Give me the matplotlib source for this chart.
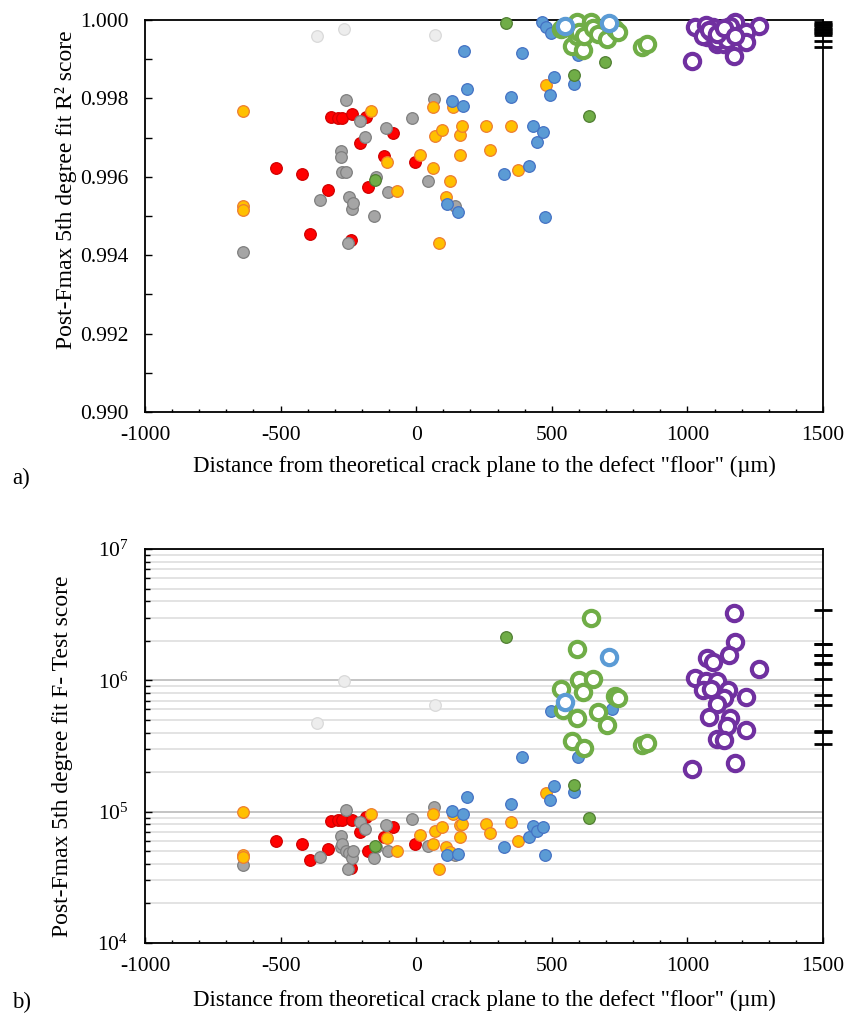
import numpy as np
import matplotlib
matplotlib.use("Agg")
import matplotlib.pyplot as plt
from matplotlib.ticker import MultipleLocator, FormatStrFormatter, LogLocator, NullFormatter

plt.rcParams['font.family'] = ['Liberation Serif', 'DejaVu Serif']
plt.rcParams['mathtext.fontset'] = 'stix'
plt.rcParams['axes.unicode_minus'] = False

nan = np.nan

# ---- data (x = distance in um, r2 = R2 score, f = F-test score) ----
red_x = [-518, -421, -390, -324, -315, -288, -274, -238, -186, -208, -239, -117, -85, -178, -5]
red_r2 = [0.99623, 0.99607, 0.99455, 0.99567, 0.99753, 0.99750, 0.99750, 0.99760, 0.99753,
          0.99686, 0.99439, 0.99652, 0.99712, 0.99574, 0.99637]
red_f = [5.94e4, 5.64e4, 4.26e4, 5.22e4, 8.53e4, 8.6e4, 8.6e4, 8.6e4, 9.15e4,
         7.0e4, 3.74e4, 6.44e4, 7.67e4, 5.0e4, 5.64e4]

gray_x = [-640, -355, -278, -278, -274, -259, -259, -253, -248, -238, -234, -207, -188,
          -157, -149, -111, -103, -15, 45, 66, 142]
gray_r2 = [0.99409, 0.99540, 0.99666, 0.99651, 0.99613, 0.99613, 0.99796, 0.99430, 0.99549,
           0.99518, 0.99533, 0.99742, 0.99701, 0.99501, 0.99600, 0.99725, 0.99560, 0.99750,
           0.99589, 0.99798, 0.99526]
gray_f = [3.92e4, 4.54e4, 6.56e4, 5.41e4, 5.67e4, 5.0e4, 1.03e5, 3.66e4, 4.81e4, 4.4e4,
          5.0e4, 8.37e4, 7.33e4, 4.43e4, 5.41e4, 7.95e4, 5.0e4, 8.74e4, 5.47e4, 1.09e5, 4.67e4]

orange_x = [-640, -640, -640, -168, -108, -72, 15, 61, 61, 70, 85, 96, 111, 126, 136,
            162, 162, 168, 257, 272, 351, 375, 477]
orange_r2 = [0.99768, 0.99526, 0.99515, 0.99768, 0.99637, 0.99564, 0.99656, 0.99778, 0.99623,
             0.99704, 0.99431, 0.99719, 0.99548, 0.99589, 0.99778, 0.99707, 0.99656, 0.99730,
             0.99729, 0.99669, 0.99729, 0.99617, 0.99834]
orange_f = [9.87e4, 4.68e4, 4.49e4, 9.6e4, 6.33e4, 5.0e4, 6.7e4, 9.6e4, 5.67e4, 7.16e4,
            3.66e4, 7.59e4, 5.4e4, 4.95e4, 9.6e4, 7.85e4, 6.37e4, 8.0e4, 8.1e4, 6.84e4,
            8.3e4, 5.94e4, 1.38e5]

blue_x = [112, 132, 153, 173, 177, 188, 325, 350, 391, 416, 432, 447, 463, 468, 476, 477,
          492, 496, 507, 583, 595, 721]
blue_r2 = [0.99530, 0.99793, 0.99511, 0.99781, 0.99922, 0.99824, 0.99606, 0.99803, 0.99915,
           0.99628, 0.99729, 0.99690, 0.99994, 0.99715, 0.99498, 0.99981, 0.99809, 0.99968,
           0.99855, 0.99838, 0.99911, 0.99985]
blue_f = [4.68e4, 1.01e5, 4.79e4, 9.6e4, nan, 1.29e5, 5.41e4, 1.14e5, 2.59e5, 6.41e4,
          7.76e4, 7.16e4, nan, 7.59e4, 4.68e4, nan, 1.23e5, 5.87e5, 1.56e5, 1.41e5,
          2.62e5, 6.0e5]

green_x = [-152, 330, 583, 637, 696]
green_r2 = [0.99592, 0.99992, 0.99859, 0.99755, 0.99894]
green_f = [5.47e4, 2.15e6, 1.6e5, 8.9e4, nan]

pale_x = [-367, -266, 68]
pale_r2 = [0.99959, 0.99976, 0.99962]
pale_f = [4.75e5, 9.9e5, 6.5e5]

gring_x = [533, 543, 573, 594, 594, 599, 614, 620, 645, 651, 670, 705, 733, 745, 831, 850]
gring_r2 = [0.99977, 0.99980, 0.99933, 0.99994, 0.99959, 0.99970, 0.99923, 0.99960,
            0.99995, 0.99980, 0.99965, 0.99952, 0.99976, 0.99970, 0.99932, 0.99938]
gring_f = [8.6e5, 5.94e5, 3.47e5, 1.72e6, 5.19e5, 1.0e6, 8.15e5, 3.03e5, 3.0e6, 1.03e6,
           5.7e5, 4.57e5, 7.6e5, 7.4e5, 3.21e5, 3.35e5]

bring_x = [549, 711]
bring_r2 = [0.99985, 0.99992]
bring_f = [6.8e5, 1.51e6]

purple_x = [1172, 1175, 1155, 1071, 1093, 1265, 1028, 1069, 1108, 1056, 1086, 1151, 1135,
            1216, 1108, 1081, 1157, 1147, 1216, 1108, 1135, 1018, 1175]
purple_r2 = [0.99909, 0.99995, 0.99970, 0.99957, 0.99983, 0.99985, 0.99981, 0.99987, 0.99940,
             0.99960, 0.99970, 0.99966, 0.99940, 0.99970, 0.99950, 0.99975, 0.99985, 0.99950,
             0.99945, 0.99965, 0.99979, 0.99896, 0.99960]
purple_f = [3.24e6, 1.95e6, 1.56e6, 1.49e6, 1.37e6, 1.21e6, 1.04e6, 9.8e5, 9.9e5, 8.4e5,
            8.6e5, 8.5e5, 7.4e5, 7.5e5, 6.6e5, 5.28e5, 5.2e5, 4.49e5, 4.19e5, 3.56e5,
            3.51e5, 2.12e5, 2.35e5]

# black dashes sitting on the right edge (x = 1500)
edge_r2 = [0.99994, 0.99990, 0.99986, 0.99982, 0.99978, 0.99974, 0.99970, 0.99966,
           0.99963, 0.99947, 0.99931]
edge_f = [3.41e6, 1.90e6, 1.88e6, 1.57e6, 1.55e6, 1.36e6, 1.34e6, 1.02e6, 7.8e5, 6.46e5,
          4.14e5, 4.05e5, 3.26e5]

xlabel = 'Distance from theoretical crack plane to the defect "floor" (\u00b5m)'
FS_TICK = 15.5
FS_LAB = 16.5

filled = [
    (red_x, red_r2, red_f, '#FF0000', '#D00000'),
    (gray_x, gray_r2, gray_f, '#A5A5A5', '#7F7F7F'),
    (orange_x, orange_r2, orange_f, '#FFC000', '#ED7D31'),
    (blue_x, blue_r2, blue_f, '#5B9BD5', '#4472C4'),
    (green_x, green_r2, green_f, '#70AD47', '#507E32'),
    (pale_x, pale_r2, pale_f, '#EDEDED', '#D9D9D9'),
]
rings = [
    (gring_x, gring_r2, gring_f, '#70AD47'),
    (bring_x, bring_r2, bring_f, '#5B9BD5'),
    (purple_x, purple_r2, purple_f, '#7030A0'),
]

fig = plt.figure(figsize=(8.49, 10.17), dpi=100)
axa = fig.add_axes([145/849, 1-412/1017, 678/849, 392/1017])
axb = fig.add_axes([145/849, 1-943/1017, 678/849, 394/1017])


def draw(ax, which):
    for xs, r2, f, fc, ec in filled:
        ys = r2 if which == 'a' else f
        ax.scatter(xs, ys, s=70, c=fc, edgecolors=ec, linewidths=0.9, zorder=3, clip_on=False)
    for xs, r2, f, col in rings:
        ys = r2 if which == 'a' else f
        ax.plot(xs, ys, 'o', ms=11, mfc='white', mec=col, mew=3.0, ls='none',
                zorder=4, clip_on=False)
    ys = edge_r2 if which == 'a' else edge_f
    ax.plot([1500]*len(ys), ys, '_', color='black', ms=12.5, mew=2.0, zorder=6, clip_on=False)

    ax.set_xlim(-1000, 1500)
    ax.xaxis.set_major_locator(MultipleLocator(500))
    ax.xaxis.set_minor_locator(MultipleLocator(100))
    ax.tick_params(axis='x', which='both', direction='in', labelsize=FS_TICK, pad=10, top=False)
    ax.tick_params(axis='x', which='major', length=4, width=1.0)
    ax.tick_params(axis='x', which='minor', length=2.5, width=1.0)
    ax.tick_params(axis='y', which='both', direction='in', labelsize=FS_TICK, pad=12, right=False)
    for sp in ax.spines.values():
        sp.set_linewidth(1.3)
        sp.set_color('black')
    ax.set_xlabel(xlabel, fontsize=FS_LAB)


draw(axa, 'a')
axa.set_ylim(0.990, 1.000)
axa.yaxis.set_major_locator(MultipleLocator(0.002))
axa.yaxis.set_minor_locator(MultipleLocator(0.001))
axa.yaxis.set_major_formatter(FormatStrFormatter('%.3f'))
axa.tick_params(axis='y', which='both', length=5, width=1.0)
axa.set_ylabel('Post-Fmax 5th degree fit R\u00b2 score', fontsize=17)
axa.yaxis.set_label_coords(-0.101, 0.566)
axa.xaxis.set_label_coords(0.5, -0.112)

draw(axb, 'b')
axb.set_yscale('log')
axb.set_ylim(1e4, 1e7)
axb.yaxis.set_major_locator(LogLocator(base=10, numticks=10))
axb.yaxis.set_minor_locator(LogLocator(base=10, subs=np.arange(2, 10), numticks=10))
axb.yaxis.set_minor_formatter(NullFormatter())
axb.tick_params(axis='y', which='major', length=5, width=1.0)
axb.tick_params(axis='y', which='minor', length=3.5, width=1.0)
axb.grid(True, which='major', axis='y', color='#BFBFBF', lw=1.3, zorder=0)
axb.grid(True, which='minor', axis='y', color='#E0E0E0', lw=1.3, zorder=0)
axb.set_axisbelow(True)
axb.set_ylabel('Post-Fmax 5th degree fit F- Test score', fontsize=17)
axb.yaxis.set_label_coords(-0.106, 0.473)
axb.xaxis.set_label_coords(0.5, -0.118)

fig.text(12/849, 1-478/1017, 'a)', fontsize=FS_LAB, va='center', ha='left')
fig.text(12/849, 1-1002/1017, 'b)', fontsize=FS_LAB, va='center', ha='left')

fig.savefig('out.png', dpi=100, facecolor='white')
